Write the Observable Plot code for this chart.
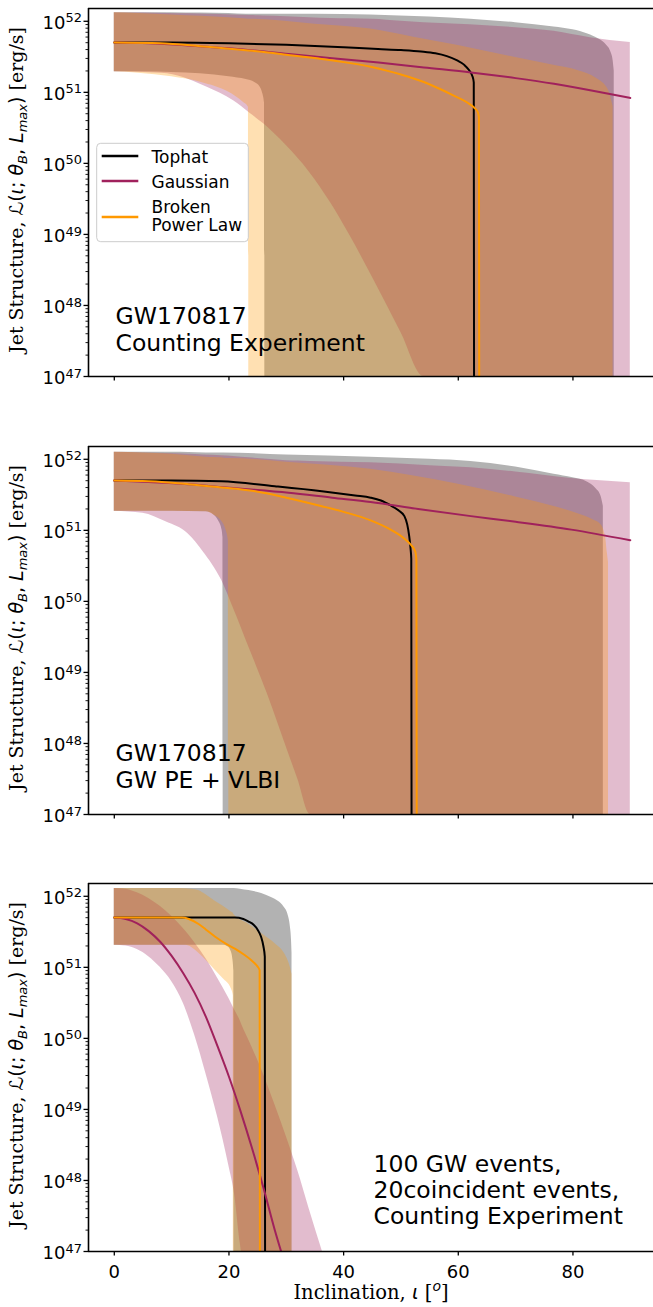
<!DOCTYPE html>
<html><head><meta charset="utf-8">
<script src="https://cdn.jsdelivr.net/npm/d3@7"></script>
<script src="https://cdn.jsdelivr.net/npm/@observablehq/plot@0.6"></script>
<style>
body{margin:0;background:#fff;}
#fig{position:relative;width:653px;height:1307px;overflow:hidden;font-family:"DejaVu Sans";}
#fig svg.panel{position:absolute;left:0;}
</style></head><body><div id="fig"></div>
<script>
// ---------- data (luminosities as log10 L [erg/s]) ----------
const xTicks = [0, 20, 40, 60, 80];
const yMajorExp = [47, 48, 49, 50, 51, 52];
const seriesNames = ["Tophat", "Gaussian", "Broken\nPower Law"];
const seriesColors = ["#000000", "#a0215c", "#ff9900"];
const panelNotes = ["GW170817\nCounting Experiment", "GW170817\nGW PE + VLBI", "100 GW events,\n20coincident events,\nCounting Experiment"];

// bands: [inclination, log10 lower, log10 upper]
const p1TophatBand = [[0,51.29,52.12],[5,51.29,52.12],[10,51.28,52.12],[15,51.26,52.115],[20,51.22,52.11],[23,51.18,52.10],[24.5,51.14,52.10],[25.4,51.08,52.10],[25.9,50.98,52.10],[26.2,50.85,52.10],[26.3,47,52.10],[35,47,52.10],[44.7,47,52.09],[55,47,52.06],[62.2,47,52.03],[70,47,51.98],[76.7,47,51.92],[80,47,51.88],[82.6,47,51.82],[84.5,47,51.75],[85.8,47,51.67],[86.6,47,51.57],[87.0,47,51.45],[87.2,47,51.30]];
const p1GaussBand  = [[0,51.29,52.12],[5,51.28,52.115],[9.3,51.26,52.11],[13,51.18,52.105],[16.2,51.07,52.10],[20.8,50.88,52.09],[23.6,50.71,52.08],[26,50.56,52.075],[30,50.25,52.065],[34,49.88,52.05],[37.7,49.45,52.04],[41,49.0,52.035],[45,48.4,52.03],[50,47.62,52.0],[54,47,51.98],[62,47,51.95],[70,47,51.91],[76.7,47,51.86],[83,47,51.77],[90,47,51.70]];
const p1BplBand    = [[0,51.29,52.12],[4.2,51.27,52.11],[10,51.22,52.09],[15.2,51.14,52.07],[20,51.0,52.05],[22.5,50.86,52.035],[23.4,50.79,52.03],[23.5,47,52.03],[35,47,51.96],[44.7,47,51.89],[52,47,51.78],[60,47,51.66],[70,47,51.49],[76,47,51.39],[81.1,47,51.30],[84,47,51.20],[86.2,47,51.03],[87.0,47,50.80]];
const p1TophatLine = [[0,51.70],[10,51.70],[20,51.69],[30,51.67],[40,51.635],[46,51.61],[50,51.595],[53.5,51.575],[56,51.55],[58,51.51],[59.8,51.45],[61,51.39],[61.9,51.31],[62.5,51.22],[62.7,51.14],[62.75,47]];
const p1GaussLine  = [[0,51.70],[6,51.69],[12.9,51.66],[20,51.62],[30.4,51.54],[38,51.48],[46.1,51.42],[54,51.35],[62.2,51.28],[70,51.20],[76.7,51.12],[83,51.03],[90,50.92]];
const p1BplLine    = [[0,51.70],[8,51.69],[15,51.65],[23.4,51.59],[30,51.53],[36.2,51.47],[40,51.425],[44.7,51.36],[48,51.295],[50,51.25],[53.5,51.16],[57,51.04],[59.2,50.955],[61.5,50.86],[62.7,50.79],[63.4,50.72],[63.6,50.65],[63.65,47]];

const p2TophatBand = [[0,51.27,52.10],[10,51.27,52.10],[16,51.26,52.09],[17.3,51.22,52.09],[18.2,51.13,52.09],[18.8,51.0,52.09],[18.95,50.9,52.09],[19.0,47,52.09],[30,47,52.06],[44.7,47,52.03],[55,47,52.0],[62.2,47,51.97],[70,47,51.89],[76.7,47,51.79],[80,47,51.74],[82.5,47,51.68],[84.0,47,51.59],[84.9,47,51.48],[85.3,47,51.34]];
const p2GaussBand  = [[0,51.27,52.10],[5,51.24,52.09],[9,51.12,52.08],[12.9,50.95,52.07],[15.5,50.7,52.06],[18.7,50.3,52.05],[20.8,49.9,52.04],[23.5,49.35,52.02],[26.7,48.7,52.0],[30,47.95,51.98],[32,47.5,51.975],[34.2,47,51.97],[44.7,47,51.95],[55,47,51.91],[62.2,47,51.88],[70,47,51.82],[79.7,47,51.73],[90,47,51.67]];
const p2BplBand    = [[0,51.27,52.10],[10,51.27,52.07],[16,51.26,52.03],[17.5,51.21,52.025],[18.7,51.13,52.02],[19.5,51.0,52.01],[19.9,50.85,52.01],[20.0,47,52.01],[30,47,51.96],[44.7,47,51.86],[52,47,51.77],[60,47,51.65],[70,47,51.47],[77.4,47,51.32],[81,47,51.23],[83.5,47,51.15],[84.9,47,51.08],[85.7,47,50.9],[86.0,47,50.68],[86.2,47,50.55]];
const p2TophatLine = [[0,51.70],[10,51.70],[18.7,51.69],[28,51.62],[36.2,51.55],[42,51.49],[44.7,51.46],[46.5,51.42],[48.2,51.35],[49.6,51.28],[50.6,51.2],[51.1,51.08],[51.4,50.94],[51.7,50.72],[51.8,50.6],[51.85,47]];
const p2GaussLine  = [[0,51.70],[6,51.68],[12.9,51.65],[20,51.60],[30.4,51.53],[38,51.46],[44.7,51.40],[53,51.30],[62.2,51.20],[70,51.12],[79.7,51.01],[90,50.86]];
const p2BplLine    = [[0,51.70],[6,51.69],[12.9,51.65],[18,51.61],[24.6,51.55],[30,51.46],[36.2,51.34],[40,51.26],[44.7,51.14],[48.2,51.01],[50.5,50.89],[51.8,50.79],[52.5,50.70],[52.7,50.58],[52.75,47]];

const p3TophatBand = [[0,51.31,52.11],[10,51.31,52.11],[19,51.31,52.11],[19.8,51.29,52.11],[20.4,51.22,52.11],[20.7,51.1,52.11],[20.85,50.95,52.11],[20.9,47,52.11],[22,47,52.10],[23.5,47,52.08],[25.7,47,52.04],[27.5,47,51.98],[28.6,47,51.93],[29.6,47,51.85],[30.3,47,51.74],[30.7,47,51.58],[30.9,47,51.4],[31.0,47,51.2]];
const p3GaussBand  = [[0,51.31,52.11],[2,51.30,52.10],[4,51.25,52.05],[6,51.15,51.97],[8,51.00,51.86],[10,50.80,51.72],[12,50.50,51.55],[14,50.05,51.35],[16,49.50,51.12],[18,48.90,50.85],[20,48.20,50.56],[21,47.80,50.40],[22,47.10,50.24],[22.2,47,50.20],[24,47,49.88],[26,47,49.50],[28,47,49.07],[30,47,48.62],[32,47,48.14],[34,47,47.60],[36.3,47,47.0]];
const p3BplBand    = [[0,51.31,52.11],[10,51.31,52.11],[12.5,51.31,52.105],[13.5,51.28,52.10],[14.7,51.2,52.08],[16,51.1,52.02],[17.6,50.96,51.93],[19,50.84,51.86],[20.4,50.7,51.78],[20.75,50.6,51.76],[20.8,47,51.75],[23.4,47,51.61],[26,47,51.46],[28.1,47,51.33],[29.8,47,51.18],[30.7,47,51.0],[31.0,47,50.9]];
const p3TophatLine = [[0,51.70],[12,51.70],[21,51.70],[22.5,51.68],[23.4,51.645],[24.3,51.6],[25.0,51.53],[25.6,51.43],[26.0,51.3],[26.25,51.15],[26.3,47]];
const p3GaussLine  = [[0,51.70],[2,51.68],[4,51.62],[6,51.51],[8,51.36],[10,51.16],[12,50.92],[14,50.64],[16,50.30],[18,49.89],[20,49.46],[22,48.98],[24,48.46],[26,47.90],[28,47.30],[29.1,47.0]];
const p3BplLine    = [[0,51.70],[11.8,51.70],[13,51.68],[14.7,51.61],[16,51.53],[17.6,51.43],[19.5,51.33],[21.1,51.26],[22.6,51.18],[23.9,51.10],[24.9,51.02],[25.35,50.96],[25.4,47]];

const panels = [
  {bands:[p1TophatBand,p1GaussBand,p1BplBand], lines:[p1TophatLine,p1GaussLine,p1BplLine], note:panelNotes[0], top:0, dx:27, dy:-26, xLabels:false},
  {bands:[p2TophatBand,p2GaussBand,p2BplBand], lines:[p2TophatLine,p2GaussLine,p2BplLine], note:panelNotes[1], top:438, dx:27, dy:-27, xLabels:false},
  {bands:[p3TophatBand,p3GaussBand,p3BplBand], lines:[p3TophatLine,p3GaussLine,p3BplLine], note:panelNotes[2], top:875, dx:285, dy:-27.5, xLabels:true}
];

// ---------- drawing ----------
const fig = document.getElementById("fig");
const L = v => Math.pow(10, v);
const yMax = L(52.18);
const majorTicks = yMajorExp.map(L);
const minorTicks = [];
for (const e of yMajorExp) for (const m of [2,3,4,5,6,7,8,9]) { const v = m * L(e); if (v < yMax) minorTicks.push(v); }
const xDomain = [-4.5, 94.05];

panels.forEach((p) => {
  const marginTop = 8, plotH = 368, marginBottom = p.xLabels ? 56 : 30;
  const chart = Plot.plot({
    width: 653, height: marginTop + plotH + marginBottom,
    marginTop, marginBottom, marginLeft: 88, marginRight: 0,
    x: {domain: xDomain, label: null},
    y: {type: "log", domain: [1e47, yMax], label: null},
    style: {fontFamily: "DejaVu Sans", fontSize: "18px", color: "#000", background: "transparent", overflow: "visible"},
    marks: [
      ...p.bands.map((b, i) => Plot.areaY(b, {x: d => d[0], y1: d => L(d[1]), y2: d => L(d[2]), fill: seriesColors[i], fillOpacity: 0.3, curve: "monotone-x", clip: true})),
      ...p.lines.map((l, i) => Plot.line(l, {x: d => d[0], y: d => L(d[1]), stroke: seriesColors[i], strokeWidth: 2, curve: "monotone-x", clip: true})),
      Plot.axisY({ticks: minorTicks, tickSize: 2.5, strokeWidth: 0.9, tickFormat: () => "", label: null}),
      Plot.axisY({ticks: majorTicks, tickSize: 4.5, tickPadding: 2, strokeWidth: 1.3, fontSize: 18, tickFormat: d => String(Math.round(Math.log10(d))), label: null}),
      Plot.axisX({ticks: xTicks, tickSize: 4.5, tickPadding: 9, strokeWidth: 1.3, fontSize: 18, tickFormat: p.xLabels ? d => String(d) : () => "", label: null}),
      Plot.ruleX([xDomain[0]], {stroke: "#000", strokeWidth: 1.6}),
      Plot.ruleY([1e47], {stroke: "#000", strokeWidth: 1.6}),
      Plot.ruleY([yMax], {stroke: "#000", strokeWidth: 1.6}),
      Plot.text([p.note], {text: d => d, frameAnchor: "bottom-left", dx: p.dx, dy: p.dy, textAnchor: "start", lineAnchor: "bottom", fontSize: 23.5, lineHeight: 1.11, fill: "#000"})
    ]
  });
  chart.classList.add("panel");
  chart.style.top = p.top + "px";
  const svg = d3.select(chart);
  // superscript tick labels 10^n
  svg.selectAll('g[aria-label="y-axis tick label"] text').each(function () {
    const t = this.textContent; if (!t) return;
    const s = d3.select(this);
    s.text("10").attr("y", "0.42em");
    s.append("tspan").attr("dy", "-0.5em").attr("font-size", "0.72em").text(t);
  });
  // y-axis label
  const yl = svg.append("text")
    .attr("transform", `translate(23,${marginTop + plotH / 2 - 2}) rotate(-90)`)
    .attr("text-anchor", "middle").attr("font-size", 19).attr("fill", "#000")
    .attr("font-family", "DejaVu Serif");
  yl.append("tspan").text("Jet Structure, ");
  yl.append("tspan").attr("font-family", "DejaVu Sans").text("ℒ(");
  yl.append("tspan").attr("font-family", "DejaVu Sans").attr("font-style", "italic").text("ι");
  yl.append("tspan").attr("font-family", "DejaVu Sans").text("; ");
  yl.append("tspan").attr("font-family", "DejaVu Sans").attr("font-style", "italic").text("θ");
  yl.append("tspan").attr("font-family", "DejaVu Sans").attr("font-style", "italic").attr("font-size", 13).attr("dy", 4).text("B");
  yl.append("tspan").attr("font-family", "DejaVu Sans").attr("dy", -4).text(", ");
  yl.append("tspan").attr("font-family", "DejaVu Sans").attr("font-style", "italic").text("L");
  yl.append("tspan").attr("font-family", "DejaVu Sans").attr("font-style", "italic").attr("font-size", 13).attr("dy", 4).text("max");
  yl.append("tspan").attr("font-family", "DejaVu Sans").attr("dy", -4).text(")");
  yl.append("tspan").text(" [erg/s]");
  if (p.xLabels) {
    const xl = svg.append("text")
      .attr("x", 371).attr("y", marginTop + plotH + 48)
      .attr("text-anchor", "middle").attr("font-size", 19.5).attr("fill", "#000")
      .attr("font-family", "DejaVu Serif");
    xl.append("tspan").text("Inclination, ");
    xl.append("tspan").attr("font-family", "DejaVu Sans").attr("font-style", "italic").text("ι");
    xl.append("tspan").text(" [");
    xl.append("tspan").attr("font-family", "DejaVu Sans").attr("font-style", "italic").attr("font-size", 14).attr("dy", -8).text("o");
    xl.append("tspan").attr("dy", 8).text("]");
  }
  fig.appendChild(chart);
});

// legend (panel 1)
const lg = d3.select(fig).append("svg").attr("class", "panel").attr("width", 653).attr("height", 260).style("top", "0px").style("pointer-events", "none");
lg.append("rect").attr("x", 96.7).attr("y", 143.3).attr("width", 151.6).attr("height", 98.4).attr("rx", 4)
  .attr("fill", "#fff").attr("fill-opacity", 0.8).attr("stroke", "#cccccc").attr("stroke-width", 1);
const swatchY = [156, 181, 217];
const labelY = [[163.3], [188], [212.7, 230.7]];
seriesNames.forEach((name, i) => {
  lg.append("line").attr("x1", 101.7).attr("x2", 138.3).attr("y1", swatchY[i]).attr("y2", swatchY[i])
    .attr("stroke", seriesColors[i]).attr("stroke-width", 2.6);
  name.split("\n").forEach((part, j) => {
    lg.append("text").attr("x", 151.5).attr("y", labelY[i][j]).attr("font-size", 17).attr("font-family", "DejaVu Sans").attr("fill", "#000").text(part);
  });
});
</script></body></html>
